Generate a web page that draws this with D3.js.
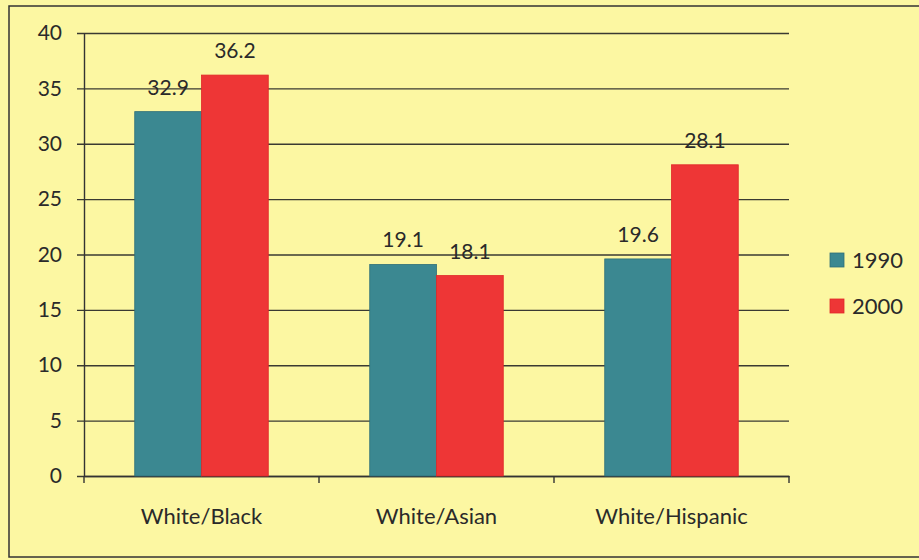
<!DOCTYPE html>
<html>
<head>
<meta charset="utf-8">
<script src="https://cdn.jsdelivr.net/npm/d3@7"></script>
<style>
  html, body { margin: 0; padding: 0; background: #fcf7a2; }
  svg { display: block; }
  text { font-family: Lato, "Open Sans", sans-serif; fill: #2a2a2a; }
</style>
</head>
<body>
<div id="chart"></div>
<script>
// chart values
var categories = ['White/Black', 'White/Asian', 'White/Hispanic'];
var seriesNames = ['1990', '2000'];
var values1990 = [32.9, 19.1, 19.6];
var values2000 = [36.2, 18.1, 28.1];
var yTicks = [0, 5, 10, 15, 20, 25, 30, 35, 40];

var width = 919, height = 560;
var plotLeft = 84, plotRight = 789, plotTop = 33, plotBottom = 476;
var colors = { '1990': '#3b8891', '2000': '#ee3636' };

var svg = d3.select('#chart')
    .append('svg')
    .attr('width', width)
    .attr('height', height)
    .style('background', '#fcf7a2');

// outer frame (runs off the right edge in the scan)
svg.append('rect')
    .attr('x', 9).attr('y', 6)
    .attr('width', 930).attr('height', 551)
    .style('fill', 'none')
    .style('stroke', '#333')
    .style('stroke-width', 1.5);

var y = d3.scaleLinear().domain([0, 40]).range([plotBottom, plotTop]);
var x0 = d3.scaleBand().domain(categories).range([plotLeft, plotRight]);
var x1 = d3.scaleBand().domain(seriesNames).range([0, x0.bandwidth()]).paddingInner(0).paddingOuter(0.76);

// gridlines
var gy = svg.append('g')
    .attr('transform', 'translate(' + plotRight + ',0)');
gy.call(d3.axisLeft(y).tickValues(yTicks).tickSize(plotRight - plotLeft + 7).tickFormat(''));
gy.select('.domain').remove();
gy.selectAll('line').style('stroke', '#3a3a32').style('stroke-width', 1.4);

// y axis labels + line
var gyl = svg.append('g').attr('transform', 'translate(' + plotLeft + ',0)');
gyl.call(d3.axisLeft(y).tickValues(yTicks).tickSize(0).tickPadding(22));
gyl.select('.domain').style('stroke', '#333').style('stroke-width', 1.4);
gyl.selectAll('text').style('font-size', '21px').style('fill', '#2a2a2a');

// x axis
var gx = svg.append('g').attr('transform', 'translate(0,' + plotBottom + ')');
gx.call(d3.axisBottom(x0).tickSize(0).tickPadding(32));
gx.select('.domain').style('stroke', '#333').style('stroke-width', 1.4);
gx.selectAll('text').style('font-size', '22px').style('fill', '#2a2a2a');
// category boundary ticks
var bounds = categories.map(function (c) { return x0(c); }).concat([plotRight]);
gx.selectAll('.bound')
    .data(bounds)
    .enter().append('line')
    .attr('x1', function (d) { return d; })
    .attr('x2', function (d) { return d; })
    .attr('y1', 0).attr('y2', 7)
    .style('stroke', '#333').style('stroke-width', 1.4);

// bars
var rows = categories.map(function (c, i) {
    return { cat: c, vals: [
        { key: '1990', value: values1990[i] },
        { key: '2000', value: values2000[i] }
    ] };
});

var groups = svg.append('g').selectAll('g')
    .data(rows)
    .enter().append('g')
    .attr('transform', function (d) { return 'translate(' + x0(d.cat) + ',0)'; });

groups.selectAll('rect')
    .data(function (d) { return d.vals; })
    .enter().append('rect')
    .attr('x', function (d) { return x1(d.key); })
    .attr('width', x1.bandwidth())
    .attr('y', function (d) { return y(d.value); })
    .attr('height', function (d) { return plotBottom - y(d.value); })
    .style('fill', function (d) { return colors[d.key]; })
    .style('stroke', function (d) { return d.key === '1990' ? '#2f6f78' : '#e02828'; })
    .style('stroke-width', 0.8);

groups.selectAll('text.val')
    .data(function (d) { return d.vals; })
    .enter().append('text')
    .attr('class', 'val')
    .attr('x', function (d) { return x1(d.key) + x1.bandwidth() / 2; })
    .attr('y', function (d) { return y(d.value) - 17; })
    .style('text-anchor', 'middle')
    .style('font-size', '21px')
    .text(function (d) { return d3.format('.1f')(d.value); });

// legend
var legend = svg.append('g').selectAll('g')
    .data(seriesNames)
    .enter().append('g')
    .attr('transform', function (d, i) { return 'translate(830,' + (253 + i * 46) + ')'; });
legend.append('rect')
    .attr('width', 14).attr('height', 14)
    .style('fill', function (d) { return colors[d]; })
    .style('stroke', function (d) { return d === '1990' ? '#2f6f78' : '#e02828'; })
    .style('stroke-width', 0.8);
legend.append('text')
    .attr('x', 22).attr('y', 7)
    .attr('dy', '0.35em')
    .style('font-size', '22px')
    .text(function (d) { return d; });
</script>
</body>
</html>
